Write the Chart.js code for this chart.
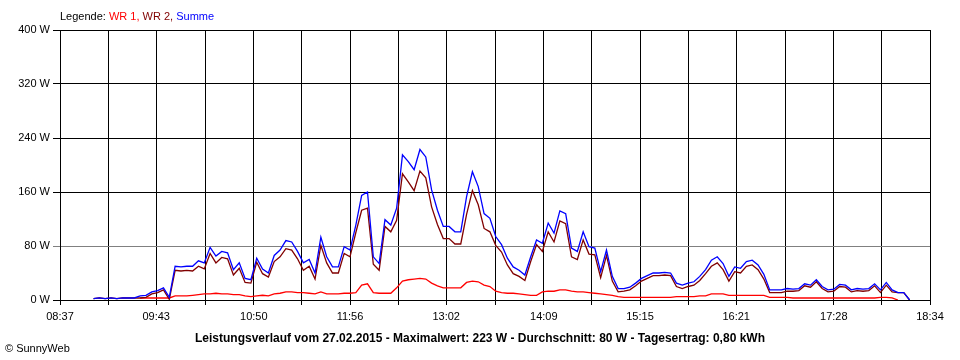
<!DOCTYPE html>
<html>
<head>
<meta charset="utf-8">
<script src="https://cdn.jsdelivr.net/npm/chart.js@4"></script>
<style>
  body { margin: 0; background: #fff; width: 960px; height: 360px; position: relative; overflow: hidden;
         font-family: "Liberation Sans", Arial, sans-serif; color: #000; }
  #chart { position: absolute; left: 0; top: 0; }
  .legend { position: absolute; left: 60px; top: 10px; font-size: 11px; white-space: nowrap; }
  .title  { position: absolute; left: 0; width: 960px; top: 331px; text-align: center;
            font-weight: bold; font-size: 12px; white-space: nowrap; }
  .copy   { position: absolute; left: 5px; top: 342px; font-size: 11px; }
</style>
</head>
<body>
<canvas id="chart" width="960" height="360"></canvas>
<div class="legend">Legende: <span style="color:#ff0000">WR 1,</span> <span style="color:#800000">WR 2,</span> <span style="color:#0000ff">Summe</span></div>
<div class="title">Leistungsverlauf vom 27.02.2015 - Maximalwert: 223 W - Durchschnitt: 80 W - Tagesertrag: 0,80 kWh</div>
<div class="copy">© SunnyWeb</div>
<script>
// ─── Data (4-minute samples) ────────────────────────────────────────────────
const TICK_LABELS = ['08:37', '09:43', '10:50', '11:56', '13:02', '14:09', '15:15', '16:21', '17:28', '18:34'];
const Y_TICKS = [0, 80, 160, 240, 320, 400];

const TIMES = [
  '09:00','09:04','09:08','09:12','09:16','09:20','09:24','09:28','09:32','09:36',
  '09:40','09:44','09:48','09:52','09:56','10:00','10:04','10:08','10:12','10:16',
  '10:20','10:24','10:28','10:32','10:36','10:40','10:44','10:48','10:52','10:56',
  '11:00','11:04','11:08','11:12','11:16','11:20','11:24','11:28','11:32','11:36',
  '11:40','11:44','11:48','11:52','11:56','12:00','12:04','12:08','12:12','12:16',
  '12:20','12:24','12:28','12:32','12:36','12:40','12:44','12:48','12:52','12:56',
  '13:00','13:04','13:08','13:12','13:16','13:20','13:24','13:28','13:32','13:36',
  '13:40','13:44','13:48','13:52','13:56','14:00','14:04','14:08','14:12','14:16',
  '14:20','14:24','14:28','14:32','14:36','14:40','14:44','14:48','14:52','14:56',
  '15:00','15:04','15:08','15:12','15:16','15:20','15:24','15:28','15:32','15:36',
  '15:40','15:44','15:48','15:52','15:56','16:00','16:04','16:08','16:12','16:16',
  '16:20','16:24','16:28','16:32','16:36','16:40','16:44','16:48','16:52','16:56',
  '17:00','17:04','17:08','17:12','17:16','17:20','17:24','17:28','17:32','17:36',
  '17:40','17:44','17:48','17:52','17:56','18:00','18:04','18:08','18:12','18:16',
  '18:20'
];

const WR1 = [
  null,null,null,null,null,null,null,null,3,3,
  3,3,3,3,6,6,6,7,8,9,
  9,10,9,9,8,8,6,5,6,7,
  6,9,10,12,12,11,11,10,9,12,
  9,9,9,10,10,11,22,24,11,10,
  10,10,18,28,30,31,32,31,25,21,
  18,18,18,18,26,28,27,22,20,13,
  11,10,10,9,8,7,7,12,13,13,
  15,15,13,12,12,11,10,9,8,7,
  5,4,4,4,4,4,4,4,4,4,
  5,5,5,5,6,6,9,9,9,7,
  7,7,7,7,7,7,4,4,4,4,
  3,3,3,3,3,3,3,3,3,3,
  3,3,3,3,3,4,4,3,0,null,
  null
];

const WR2 = [
  2,3,2,3,2,3,3,3,3,4,
  9,11,15,1,44,43,44,43,50,46,
  69,55,63,61,37,47,26,25,56,39,
  34,57,64,76,74,61,44,50,31,81,
  55,40,40,69,64,100,133,136,53,44,
  109,101,118,187,175,162,191,181,138,112,
  91,91,83,83,127,162,141,106,101,81,
  71,52,39,35,29,57,82,72,101,86,
  117,113,64,60,89,68,67,33,66,28,
  12,13,15,21,28,32,36,36,37,36,
  20,17,20,22,29,39,50,55,45,28,
  42,40,50,52,45,31,11,11,11,13,
  13,14,21,19,27,17,12,13,20,19,
  12,14,13,14,21,11,22,12,11,11,
  0
];

const SUMME = [
  2,3,2,3,2,3,3,3,6,7,
  12,14,18,4,50,49,50,50,58,55,
  78,65,72,70,45,55,32,30,62,46,
  40,66,74,88,86,72,55,60,40,93,
  64,49,49,79,74,111,155,160,64,54,
  119,111,136,215,205,193,223,212,163,133,
  109,109,101,101,153,190,168,128,121,94,
  82,62,49,44,37,64,89,84,114,99,
  132,128,77,72,101,79,77,42,74,35,
  17,17,19,25,32,36,40,40,41,40,
  25,22,25,27,35,45,59,64,54,35,
  49,47,57,59,52,38,15,15,15,17,
  16,17,24,22,30,20,15,16,23,22,
  15,17,16,17,24,15,26,15,11,11,
  0
];

// ─── Helpers ────────────────────────────────────────────────────────────────
const toMin = s => { const [h, m] = s.split(':').map(Number); return h * 60 + m; };
const series = vals => TIMES.map((t, i) => ({ x: toMin(t), y: vals[i] }));

// labelled ticks plus an unlabelled grid line half-way between each pair
const tickMins = [];
TICK_LABELS.forEach((t, i) => {
  const v = toMin(t);
  if (i > 0) tickMins.push((tickMins[tickMins.length - 1] + v) / 2);
  tickMins.push(v);
});

const FONT = { family: '"Liberation Sans", Arial, sans-serif', size: 11 };

// ─── Chart ──────────────────────────────────────────────────────────────────
new Chart(document.getElementById('chart'), {
  type: 'line',
  data: {
    datasets: [
      { label: 'WR 1',  data: series(WR1),   borderColor: '#ff0000', order: 3 },
      { label: 'WR 2',  data: series(WR2),   borderColor: '#800000', order: 2 },
      { label: 'Summe', data: series(SUMME), borderColor: '#0000ff', order: 1 },
    ].map(d => ({ ...d, borderWidth: 1.3, tension: 0, pointRadius: 0, fill: false, spanGaps: false }))
  },
  options: {
    responsive: false,
    animation: false,
    devicePixelRatio: 1,
    layout: { padding: { top: 30, right: 30, left: 0, bottom: 0 } },
    plugins: { legend: { display: false }, tooltip: { enabled: false } },
    scales: {
      x: {
        type: 'linear',
        min: toMin(TICK_LABELS[0]),
        max: toMin(TICK_LABELS[TICK_LABELS.length - 1]),
        afterBuildTicks: s => { s.ticks = tickMins.map(v => ({ value: v })); },
        afterFit: s => { s.height = 60; },
        ticks: {
          autoSkip: false, maxRotation: 0, color: '#000', font: FONT, padding: 5,
          callback: (v, i) => (i % 2 === 0 ? TICK_LABELS[i / 2] : ''),
        },
        grid: { color: '#000', lineWidth: 1, tickLength: 5 },
        border: { color: '#000', width: 1 },
      },
      y: {
        min: Y_TICKS[0],
        max: Y_TICKS[Y_TICKS.length - 1],
        afterBuildTicks: s => { s.ticks = Y_TICKS.map(v => ({ value: v })); },
        afterFit: s => { s.width = 60; },
        ticks: { color: '#000', font: FONT, padding: 3, callback: v => v + ' W' },
        grid: { color: c => (c.tick && c.tick.value === 80 ? '#808080' : '#000'), lineWidth: 1, tickLength: 7 },
        border: { color: '#000', width: 1 },
      },
    },
  },
});
</script>
</body>
</html>
